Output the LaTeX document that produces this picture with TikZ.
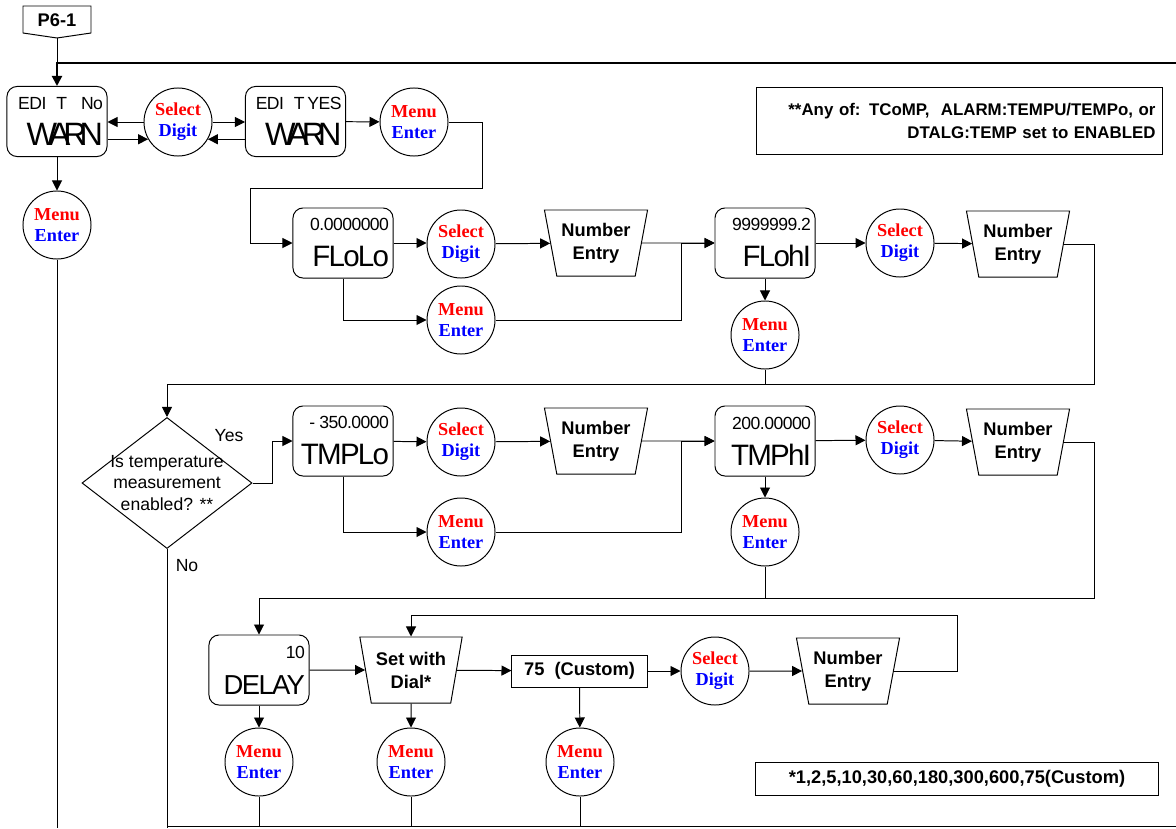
\documentclass[tikz,border=0pt]{standalone}
\usepackage{fontspec}
\setmainfont{Liberation Sans}
\newfontfamily\btnfont{Liberation Serif}
\newfontfamily\lcdfont[LetterSpace=-6]{Liberation Sans}
\newfontfamily\lcdsmall[LetterSpace=-3]{Liberation Sans}
\usetikzlibrary{arrows.meta,shapes.geometric}
\definecolor{btnred}{RGB}{255,0,0}
\definecolor{btnblue}{RGB}{0,0,255}
\newcommand{\btn}[2]{\textcolor{btnred}{#1}\\\textcolor{btnblue}{#2}}
\newcommand{\disp}[2]{{\lcdsmall\fontsize{12.5}{12.5}\selectfont\mbox{#1}}\\#2}

\begin{document}
\begin{tikzpicture}[x=0.025cm, y=-0.025cm, line width=0.7pt,
  dispbox/.style={draw, rounded corners=0.25cm, align=right, text width=2.3cm, inner xsep=0.1cm,
    minimum height=1.75cm, font=\lcdfont\fontsize{21}{25.6}\selectfont},
  btn/.style={draw, circle, minimum size=1.7cm, inner sep=0pt, align=center,
    font=\btnfont\bfseries\fontsize{13}{15}\selectfont},
  entry/.style={draw, trapezium, shape border rotate=180, trapezium left angle=76, trapezium right angle=76,
    trapezium stretches=true, minimum width=2.55cm, minimum height=1.65cm, align=center,
    font=\bfseries\fontsize{13}{16.4}\selectfont},
  notebox/.style={draw, font=\bfseries\fontsize{13}{16.5}\selectfont},
  arr/.style={-{Triangle[length=0.25cm, width=0.25cm]}}]
  \useasboundingbox (0,0) rectangle (1176,828);

  % entry tab
  \node[font=\bfseries\fontsize{13}{13}\selectfont] (p61) at (57,20) {P6-1};
  \draw (23,6) -- (91,6) -- (91,33) -- (57,38) -- (23,33) -- cycle;
  \coordinate (p61tip) at (57,38);
  \coordinate (loopin) at (1176,63);

  % WARN
  \node[dispbox] (warnno) at (57,121.5) {\disp{EDI T\hspace{10pt}No}{{\addfontfeature{LetterSpace=-22}\fontsize{23}{25.6}\selectfont WARN}}};
  \node[btn] (selno) at (178,122) {\btn{Select}{Digit}};
  \node[dispbox] (warnyes) at (295.5,121.5) {\disp{EDI T\hspace{2pt}YES}{{\addfontfeature{LetterSpace=-22}\fontsize{23}{25.6}\selectfont WARN}}};
  \node[btn] (menuyes) at (414,122) {\btn{Menu}{Enter}};
  \node[btn] (menuno) at (57,225) {\btn{Menu}{Enter}};
  \coordinate (out1) at (57,828);

  % FLoLo / FLohI
  \node[dispbox] (flolo) at (343,243) {\disp{0.0000000}{FLoLo}};
  \node[btn] (selflolo) at (461,244) {\btn{Select}{Digit}};
  \node[entry] (entflolo) at (596,243) {Number\\Entry};
  \node[btn] (menuflolo) at (461,320) {\btn{Menu}{Enter}};
  \node[dispbox] (flohi) at (765,243) {\disp{9999999.2}{FLohI}};
  \node[btn] (selflohi) at (900,243) {\btn{Select}{Digit}};
  \node[entry] (entflohi) at (1018,244) {Number\\Entry};
  \node[btn] (menuflohi) at (765,335) {\btn{Menu}{Enter}};
  \coordinate (ret1) at (1094,384);

  % temperature test
  \node[draw, diamond, minimum width=4.25cm, minimum height=3.275cm, inner sep=0pt] (tempon) at (167,483) {};
  \node[align=center, font=\fontsize{12.5}{15.3}\selectfont] (temptext) at (tempon.center) {Is temperature\\measurement\\enabled? **};
  \node[font=\fontsize{12.5}{12.5}\selectfont] (yes) at (229,436) {Yes};
  \node[font=\fontsize{12.5}{12.5}\selectfont] (no) at (187,566) {No};
  \coordinate (out2) at (167,828);

  % TMPLo / TMPhI
  \node[dispbox] (tmplo) at (343,441) {\disp{-\hspace{3pt}350.0000}{TMPLo}};
  \node[btn] (seltmplo) at (461,442) {\btn{Select}{Digit}};
  \node[entry] (enttmplo) at (596,441) {Number\\Entry};
  \node[btn] (menutmplo) at (461,532) {\btn{Menu}{Enter}};
  \node[dispbox] (tmphi) at (765,441) {\disp{200.00000}{TMPhI}};
  \node[btn] (seltmphi) at (900,440) {\btn{Select}{Digit}};
  \node[entry] (enttmphi) at (1018,442) {Number\\Entry};
  \node[btn] (menutmphi) at (765,532) {\btn{Menu}{Enter}};
  \coordinate (ret2) at (1094,598);

  % DELAY
  \node[dispbox] (delay) at (259,670) {\disp{10}{{\fontsize{19.5}{25.6}\selectfont DELAY}}};
  \node[entry] (dial) at (411,670) {Set with\\Dial*};
  \node[draw, minimum width=3.375cm, minimum height=0.8cm, font=\bfseries\fontsize{13}{13}\selectfont] (custom) at (579.5,671) {75\ \ (Custom)};
  \node[btn] (seldelay) at (715,671) {\btn{Select}{Digit}};
  \node[entry] (entdelay) at (848,671) {Number\\Entry};
  \node[btn] (menudelay) at (259,762) {\btn{Menu}{Enter}};
  \node[btn] (menudial) at (411,762) {\btn{Menu}{Enter}};
  \node[btn] (menucustom) at (580,762) {\btn{Menu}{Enter}};
  \coordinate (ret3) at (957,615);
  \coordinate (bot) at (1176,826);

  % notes
  \node[notebox, font=\bfseries\fontsize{12}{16.5}\selectfont, minimum width=10.125cm, minimum height=1.65cm,
    align=right, text width=9.8cm, inner xsep=0.15cm] (tempnote) at (959.5,121)
    {**Any of: TCoMP,\ \ ALARM:TEMPU/TEMPo, or\\DTALG:TEMP set to ENABLED};
  \node[notebox, minimum width=10.05cm, minimum height=0.825cm] (delaynote) at (957,778.5)
    {*1,2,5,10,30,60,180,300,600,75(Custom)};

  % Lines
  \draw (p61tip) -- (57,63);
  \draw[arr, line width=1.4pt] (loopin) -| (warnno);
  \draw[arr] (warnno.east |- selno.-150) -- (selno.-150);
  \draw[arr] (selno.west) -- (selno.west -| warnno.east);
  \draw[arr] (selno.east) -- (selno.east -| warnyes.west);
  \draw[arr] (warnyes.west |- selno.-30) -- (selno.-30);
  \draw[arr] (warnyes) -- (menuyes);
  \draw[arr] (warnno) -- (menuno);
  \draw (menuno) -- (out1);
  \draw[arr] (menuyes.east) -| (482,188) -| (250,243) -- (flolo.west);

  \draw[arr] (flolo) -- (flolo -| selflolo.west);
  \draw[arr] (selflolo) -- (entflolo);
  \draw[arr] (entflolo) -- (flohi);
  \draw[arr] (flolo.south) |- (menuflolo);
  \draw[arr] (menuflolo) -| (681,243) -- (flohi.west);
  \draw[arr] (flohi) -- (selflohi);
  \draw[arr] (selflohi) -- (entflohi);
  \draw[arr] (flohi) -- (menuflohi);
  \draw[arr] (entflohi) -| (ret1) -| (tempon);
  \draw (menuflohi) -- (menuflohi |- ret1);

  \draw[arr] (tempon.east) -- (272,483) |- (tmplo);
  \draw (tempon.south) -- (out2);

  \draw[arr] (tmplo) -- (seltmplo);
  \draw[arr] (seltmplo) -- (enttmplo);
  \draw[arr] (enttmplo) -- (tmphi);
  \draw[arr] (tmplo.south) |- (menutmplo);
  \draw[arr] (menutmplo) -| (681,441) -- (tmphi.west);
  \draw[arr] (tmphi) -- (seltmphi);
  \draw[arr] (seltmphi) -- (enttmphi);
  \draw[arr] (tmphi) -- (menutmphi);
  \draw[arr] (enttmphi) -| (ret2) -| (delay);
  \draw (menutmphi) -- (menutmphi |- ret2);

  \draw[arr] (delay) -- (dial);
  \draw[arr] (dial) -- (custom);
  \draw[arr] (custom) -- (seldelay);
  \draw[arr] (seldelay) -- (entdelay);
  \draw[arr] (entdelay) -| (ret3) -| (dial);
  \draw[arr] (delay) -- (menudelay);
  \draw[arr] (dial) -- (menudial);
  \draw[arr] (custom) -- (menucustom);
  \draw (menudelay) -- (menudelay |- bot);
  \draw (menudial) -- (menudial |- bot);
  \draw (menucustom) -- (menucustom |- bot);
  \draw (out2 |- bot) -- (bot);
\end{tikzpicture}
\end{document}
